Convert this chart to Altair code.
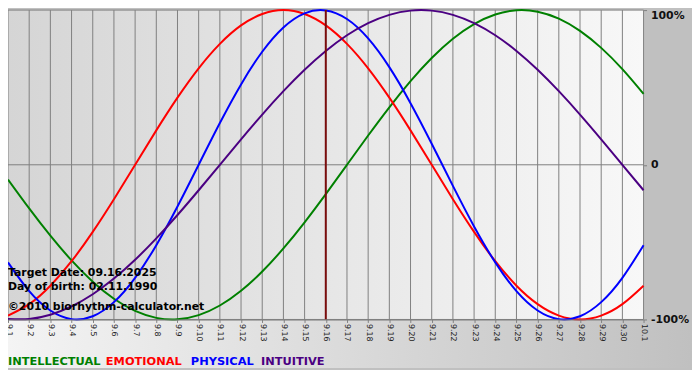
import altair as alt
import pandas as pd

# ---------------- data ----------------
days = list(range(31))
day_labels = ["9.1", "9.2", "9.3", "9.4", "9.5", "9.6", "9.7", "9.8", "9.9", "9.10",
              "9.11", "9.12", "9.13", "9.14", "9.15", "9.16", "9.17", "9.18", "9.19", "9.20",
              "9.21", "9.22", "9.23", "9.24", "9.25", "9.26", "9.27", "9.28", "9.29", "9.30", "10.1"]

intellectual = [-0.0951, -0.2817, -0.4582, -0.6182, -0.7557, -0.8660, -0.9450, -0.9898, -0.9989, -0.9718,
                -0.9096, -0.8146, -0.6901, -0.5406, -0.3717, -0.1893, 0.0, 0.1893, 0.3717, 0.5406,
                0.6901, 0.8146, 0.9096, 0.9718, 0.9989, 0.9898, 0.9450, 0.8660, 0.7557, 0.6182, 0.4582]
emotional = [-0.9749, -0.9010, -0.7818, -0.6235, -0.4339, -0.2225, 0.0, 0.2225, 0.4339, 0.6235,
             0.7818, 0.9010, 0.9749, 1.0, 0.9749, 0.9010, 0.7818, 0.6235, 0.4339, 0.2225,
             0.0, -0.2225, -0.4339, -0.6235, -0.7818, -0.9010, -0.9749, -1.0, -0.9749, -0.9010, -0.7818]
physical = [-0.6311, -0.8170, -0.9423, -0.9977, -0.9791, -0.8879, -0.7308, -0.5196, -0.2698, 0.0,
            0.2698, 0.5196, 0.7308, 0.8879, 0.9791, 0.9977, 0.9423, 0.8170, 0.6311, 0.3984,
            0.1362, -0.1362, -0.3984, -0.6311, -0.8170, -0.9423, -0.9977, -0.9791, -0.8879, -0.7308, -0.5196]
intuitive = [-0.9966, -0.9966, -0.9694, -0.9158, -0.8372, -0.7357, -0.6142, -0.4759, -0.3247, -0.1646,
             0.0, 0.1646, 0.3247, 0.4759, 0.6142, 0.7357, 0.8372, 0.9158, 0.9694, 0.9966,
             0.9966, 0.9694, 0.9158, 0.8372, 0.7357, 0.6142, 0.4759, 0.3247, 0.1646, 0.0, -0.1646]

series_names = ["INTELLECTUAL", "EMOTIONAL", "PHYSICAL", "INTUITIVE"]
series_colors = ["#008000", "#ff0000", "#0000ff", "#4b0082"]
target_day = [15]
y_ticks = [-1, 0, 1]
y_tick_labels = ["-100%", "0", "100%"]
info_lines = ["Target Date: 09.16.2025", "Day of birth: 02.11.1990", "©2010 biorhythm-calculator.net"]

# ---------------- layout ----------------
W, H = 643, 313
FONT = "DejaVu Sans"
GRID = "#808080"

rows = []
for name, vals in zip(series_names, [intellectual, emotional, physical, intuitive]):
    for d, v in zip(days, vals):
        rows.append({"day": d, "value": v, "series": name})
df = pd.DataFrame(rows)

xscale = alt.Scale(domain=[0, 30], nice=False, zero=False)
yscale = alt.Scale(domain=[-1, 1], nice=False)
one = pd.DataFrame({"a": [0]})

x_label_expr = "[" + ",".join("'%s'" % l for l in day_labels) + "][datum.value]"
y_label_expr = " : ".join("datum.value == %s ? '%s'" % (v, l) for v, l in zip(y_ticks, y_tick_labels)) + " : ''"

x_axis = alt.Axis(values=days, labelExpr=x_label_expr, title=None, grid=False, zindex=1,
                  domain=True, domainColor=GRID, ticks=True, tickColor=GRID, tickSize=3,
                  labelAngle=90, labelAlign="left", labelBaseline="middle",
                  labelPadding=1, labelFont=FONT, labelFontSize=8, labelFontWeight="normal",
                  labelColor="#222222", labelFlush=False, labelOverlap=False)
y_axis = alt.Axis(orient="right", values=y_ticks, labelExpr=y_label_expr, title=None, zindex=1,
                  grid=False, domain=False, ticks=True, tickColor=GRID, tickSize=3,
                  labelPadding=4, labelFont=FONT, labelFontSize=11, labelFontWeight="bold",
                  labelColor="#111111", labelFlush=False, labelOverlap=False,
                  labelBaseline={"condition": {"test": "datum.value == 1", "value": "top"},
                                 "value": "middle"})

plot_bg = alt.Chart(one).mark_rect(
    color=alt.LinearGradient(gradient="linear",
                             stops=[alt.GradientStop(color="#d5d5d5", offset=0),
                                    alt.GradientStop(color="#f8f8f8", offset=1)],
                             x1=0, x2=1, y1=0, y2=0)
).encode(x=alt.value(0), x2=alt.value(W), y=alt.value(0), y2=alt.value(H))

bottom_bg = alt.Chart(one).mark_rect(
    color=alt.LinearGradient(gradient="linear",
                             stops=[alt.GradientStop(color="#f4f4f4", offset=0),
                                    alt.GradientStop(color="#c0c0c0", offset=1)],
                             x1=0, x2=1, y1=0, y2=0)
).encode(x=alt.value(0), x2=alt.value(W + 49), y=alt.value(H + 1), y2=alt.value(H + 49))

vgrid = alt.Chart(pd.DataFrame({"day": days})).mark_rule(color=GRID, strokeWidth=1).encode(
    x=alt.X("day:Q", scale=xscale, axis=x_axis), y=alt.value(0), y2=alt.value(H))

hgrid = alt.Chart(pd.DataFrame({"value": y_ticks})).mark_rule(color=GRID, strokeWidth=1).encode(
    y=alt.Y("value:Q", scale=yscale, axis=y_axis), x=alt.value(0), x2=alt.value(W))

lines = alt.Chart(df).mark_line(strokeWidth=2, interpolate="natural").encode(
    x=alt.X("day:Q", scale=xscale, axis=x_axis),
    y=alt.Y("value:Q", scale=yscale, axis=y_axis),
    color=alt.Color("series:N", scale=alt.Scale(domain=series_names, range=series_colors), legend=None),
)

target = alt.Chart(pd.DataFrame({"day": target_day})).mark_rule(color="#7a0c0c", strokeWidth=2).encode(
    x=alt.X("day:Q", scale=xscale, axis=x_axis), y=alt.value(0), y2=alt.value(H))

layers = [plot_bg, bottom_bg, vgrid, hgrid, lines, target]

info_y = [269, 283, 303]
for txt, yy in zip(info_lines, info_y):
    layers.append(alt.Chart(one).mark_text(text=txt, font=FONT, fontSize=11, fontWeight="bold",
                                            color="#000000", align="left", baseline="alphabetic").encode(
        x=alt.value(0), y=alt.value(yy)))

leg_x = [0, 99, 185, 256]
for name, col, xx in zip(series_names, series_colors, leg_x):
    layers.append(alt.Chart(one).mark_text(text=name, font=FONT, fontSize=11.5, fontWeight="bold",
                                            color=col, align="left", baseline="middle").encode(
        x=alt.value(xx), y=alt.value(356)))

chart = alt.layer(*layers).properties(
    width=W, height=H,
    padding={"left": 0, "top": 0, "right": 49, "bottom": 49},
    autosize=alt.AutoSizeParams(type="none"),
    background="#c0c0c0",
).configure_view(stroke=None)

chart.save("out.html", embed_options={"renderer": "svg", "actions": False})
